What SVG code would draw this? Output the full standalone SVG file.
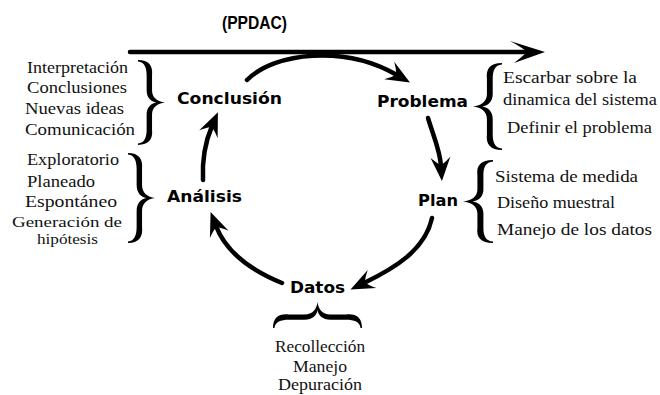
<svg xmlns="http://www.w3.org/2000/svg" xmlns:xlink="http://www.w3.org/1999/xlink" width="660" height="395" viewBox="0 0 660 395">
<style>
.lbl{font-family:"DejaVu Sans","Liberation Sans",sans-serif;font-weight:bold;font-size:16px;fill:#000}
.itm{font-family:"Liberation Serif","DejaVu Serif",serif;font-size:16px;fill:#111}
.sm{font-size:15px}
.ttl{font-family:"Liberation Sans",Arial,sans-serif;font-weight:bold;font-size:19px;fill:#000}
.arr{fill:none;stroke:#000;stroke-width:4.5;stroke-linecap:round}
.brace{fill:#000}
</style>
<defs>
<marker id="head" markerUnits="userSpaceOnUse" viewBox="-10 -11 26 22" refX="0" refY="0" markerWidth="26" markerHeight="22" orient="auto" overflow="visible">
<path d="M15,0 L-9,-10 Q-3,-4 -1,0 Q-3,4 -9,10 Z" fill="#000"/>
</marker>
<marker id="headL" markerUnits="userSpaceOnUse" viewBox="-20 -12 38 24" refX="0" refY="0" markerWidth="38" markerHeight="24" orient="auto" overflow="visible">
<path d="M16,0 L-19,-11 Q-6,-4 -2,0 Q-6,4 -15,11 Z" fill="#000"/>
</marker>
<path id="br" d="M0,0 C10,0 14,6 13,16 L13,32 C13,40 18,44 25,45 C18,46 13,50 13,58 L13,74 C14,84 10,90 0,90 L0,88.5 C6,88 8,82 8,74 L8,58 C8,50 12,46 17,45 C12,44 8,40 8,32 L8,16 C8,8 6,2 0,1.5 Z"/>
</defs>

<g id="title">
<text class="ttl" x="222" y="29" textLength="65" lengthAdjust="spacingAndGlyphs">(PPDAC)</text>
</g>

<g id="connectors">
<path class="arr" d="M130,52 L529,52" marker-end="url(#headL)"/>
<path class="arr" d="M247,80 C275,52 345,45 397,75" marker-end="url(#head)"/>
<path class="arr" d="M428,118 C433,135 440,150 441,166" marker-end="url(#head)"/>
<path class="arr" d="M432,218 C425,250 395,268 364,283" marker-end="url(#head)"/>
<path class="arr" d="M282,283 C250,270 226,252 216,226" marker-end="url(#head)"/>
<path class="arr" d="M203,180 C202,160 206,140 212,126" marker-end="url(#head)"/>
</g>

<g id="node-conclusion">
<text class="lbl" x="177" y="104" textLength="105" lengthAdjust="spacingAndGlyphs">Conclusión</text>
<use xlink:href="#br" class="brace" transform="translate(138,60) scale(1.08,0.944)"/>
<text class="itm" x="27" y="73" textLength="101" lengthAdjust="spacingAndGlyphs">Interpretación</text>
<text class="itm" x="27" y="93" textLength="100" lengthAdjust="spacingAndGlyphs">Conclusiones</text>
<text class="itm" x="25" y="114" textLength="99" lengthAdjust="spacingAndGlyphs">Nuevas ideas</text>
<text class="itm" x="25" y="135" textLength="110" lengthAdjust="spacingAndGlyphs">Comunicación</text>
</g>

<g id="node-problema">
<text class="lbl" x="377" y="107" textLength="91" lengthAdjust="spacingAndGlyphs">Problema</text>
<use xlink:href="#br" class="brace" transform="translate(502,63) scale(-1.16,0.967)"/>
<text class="itm" x="503" y="83" textLength="134" lengthAdjust="spacingAndGlyphs">Escarbar sobre la</text>
<text class="itm" x="503" y="105" textLength="154" lengthAdjust="spacingAndGlyphs">dinamica del sistema</text>
<text class="itm" x="507" y="133" textLength="145" lengthAdjust="spacingAndGlyphs">Definir el problema</text>
</g>

<g id="node-plan">
<text class="lbl" x="418" y="206" textLength="40" lengthAdjust="spacingAndGlyphs">Plan</text>
<use xlink:href="#br" class="brace" transform="translate(493,160) scale(-1.2,0.922)"/>
<text class="itm" x="495" y="182" textLength="143" lengthAdjust="spacingAndGlyphs">Sistema de medida</text>
<text class="itm" x="497" y="208" textLength="118" lengthAdjust="spacingAndGlyphs">Diseño muestral</text>
<text class="itm" x="497" y="235" textLength="155" lengthAdjust="spacingAndGlyphs">Manejo de los datos</text>
</g>

<g id="node-datos">
<text class="lbl" x="290" y="293" textLength="55" lengthAdjust="spacingAndGlyphs">Datos</text>
<use xlink:href="#br" class="brace" transform="matrix(0,-1.04,0.989,0,273,328)"/>
<text class="itm" x="275" y="352" textLength="90" lengthAdjust="spacingAndGlyphs">Recollección</text>
<text class="itm" x="293" y="372" textLength="54" lengthAdjust="spacingAndGlyphs">Manejo</text>
<text class="itm" x="278" y="390" textLength="84" lengthAdjust="spacingAndGlyphs">Depuración</text>
</g>

<g id="node-analisis">
<text class="lbl" x="167" y="202" textLength="75" lengthAdjust="spacingAndGlyphs">Análisis</text>
<use xlink:href="#br" class="brace" transform="translate(128,153) scale(1.08,1)"/>
<text class="itm" x="27" y="165" textLength="92" lengthAdjust="spacingAndGlyphs">Exploratorio</text>
<text class="itm" x="27" y="187" textLength="68" lengthAdjust="spacingAndGlyphs">Planeado</text>
<text class="itm" x="25" y="207" textLength="92" lengthAdjust="spacingAndGlyphs">Espontáneo</text>
<text class="itm sm" x="12" y="227" textLength="110" lengthAdjust="spacingAndGlyphs">Generación de</text>
<text class="itm sm" x="37" y="244" textLength="61" lengthAdjust="spacingAndGlyphs">hipótesis</text>
</g>
</svg>
